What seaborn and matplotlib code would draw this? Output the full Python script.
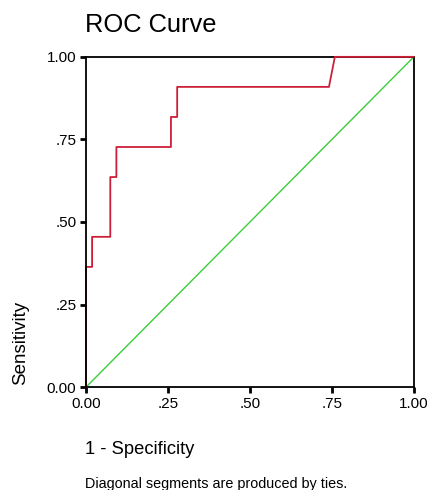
import pandas as pd
import matplotlib
matplotlib.use('Agg')
import matplotlib.pyplot as plt
import seaborn as sns

# ROC curve data
fpr = [0.0, 0.0, 0.0185, 0.0185, 0.074, 0.074, 0.0926, 0.0926, 0.259, 0.259,
       0.278, 0.278, 0.741, 0.759, 1.0]
tpr = [0.0, 0.364, 0.364, 0.455, 0.455, 0.636, 0.636, 0.727, 0.727, 0.818,
       0.818, 0.909, 0.909, 1.0, 1.0]
ref_x = [0.0, 1.0]
ref_y = [0.0, 1.0]
tick_vals = [0.0, 0.25, 0.5, 0.75, 1.0]
tick_labels = ['0.00', '.25', '.50', '.75', '1.00']

sns.set_style('white')
plt.rcParams['font.family'] = ['Liberation Sans', 'DejaVu Sans']
plt.rcParams['text.color'] = 'black'

df = pd.DataFrame({'fpr': fpr, 'tpr': tpr})
ref = pd.DataFrame({'x': ref_x, 'y': ref_y})

fig = plt.figure(figsize=(4.28, 4.90), dpi=100)
ax = fig.add_axes([0.201, 0.210, 0.766, 0.674])

sns.lineplot(data=ref, x='x', y='y', ax=ax, color='#3ccc3c', linewidth=1.0)
sns.lineplot(data=df, x='fpr', y='tpr', ax=ax, sort=False, estimator=None,
             color='#cc2038', linewidth=1.3)
# red curve drawn over the top frame line, as in the original
for ln in ax.lines[1:]:
    ln.set_zorder(5)
    ln.set_clip_on(False)

ax.set_xlim(0, 1)
ax.set_ylim(0, 1)
ax.set_xticks(tick_vals)
ax.set_xticklabels(tick_labels)
ax.set_yticks(tick_vals)
ax.set_yticklabels(tick_labels)
ax.tick_params(axis='both', direction='out', length=4, width=2, color='black',
               labelcolor='black', labelsize=11, pad=3, bottom=True, left=True)
for s in ax.spines.values():
    s.set_color('black')
    s.set_linewidth(1.3)
ax.spines['left'].set_zorder(6)
ax.set_xlabel('')
ax.set_ylabel('')

fig.text(0.199, 0.950, 'ROC Curve', fontsize=18.4, ha='left', va='center')
fig.text(0.047, 0.214, 'Sensitivity', fontsize=13.5, rotation=90, ha='center', va='bottom')
fig.text(0.199, 0.082, '1 - Specificity', fontsize=13.2, ha='left', va='center')
fig.text(0.199, 0.013, 'Diagonal segments are produced by ties.', fontsize=10.4,
         ha='left', va='center')

fig.savefig('out.png', dpi=100)
